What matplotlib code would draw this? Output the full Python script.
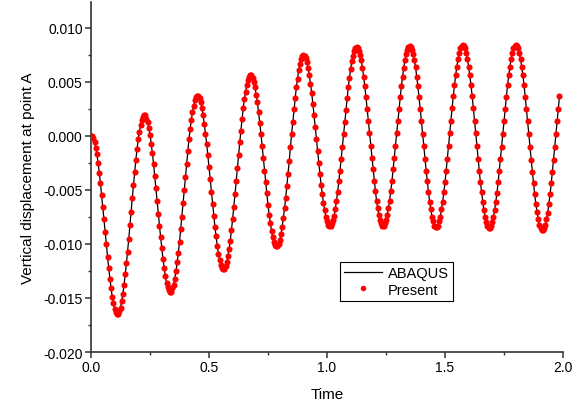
import numpy as np
import matplotlib
matplotlib.use("Agg")
import matplotlib.pyplot as plt
from matplotlib.ticker import MultipleLocator, FormatStrFormatter

plt.rcParams['font.family'] = ['Liberation Sans', 'DejaVu Sans']
plt.rcParams['axes.unicode_minus'] = False

dt = 0.005
present_disp = [
    0.0, 0.0, -0.0002, -0.0006, -0.0011, -0.0017, -0.0025, -0.0034, -0.0044, -0.0055, -0.0066, -0.0077, -0.0089, -0.0100, -0.0112,
    -0.0122, -0.0132, -0.0141, -0.0149, -0.0155, -0.0160, -0.0163, -0.0165, -0.0165, -0.0162, -0.0159, -0.0153, -0.0146, -0.0138, -0.0128,
    -0.0118, -0.0107, -0.0095, -0.0082, -0.0070, -0.0057, -0.0045, -0.0033, -0.0022, -0.0012, -0.0003, 0.0004, 0.0010, 0.0015, 0.0018,
    0.0019, 0.0019, 0.0016, 0.0013, 0.0007, 0.0001, -0.0007, -0.0016, -0.0026, -0.0037, -0.0048, -0.0060, -0.0072, -0.0083, -0.0094,
    -0.0104, -0.0114, -0.0122, -0.0130, -0.0136, -0.0140, -0.0143, -0.0144, -0.0144, -0.0141, -0.0138, -0.0132, -0.0125, -0.0117, -0.0108,
    -0.0098, -0.0086, -0.0075, -0.0062, -0.0050, -0.0038, -0.0026, -0.0014, -0.0003, 0.0006, 0.0015, 0.0022, 0.0028, 0.0033, 0.0036,
    0.0037, 0.0037, 0.0035, 0.0031, 0.0026, 0.0019, 0.0011, 0.0002, -0.0007, -0.0018, -0.0029, -0.0040, -0.0052, -0.0063, -0.0074,
    -0.0084, -0.0093, -0.0102, -0.0109, -0.0115, -0.0119, -0.0122, -0.0123, -0.0123, -0.0120, -0.0117, -0.0111, -0.0105, -0.0097, -0.0087,
    -0.0077, -0.0066, -0.0054, -0.0042, -0.0030, -0.0018, -0.0006, 0.0005, 0.0016, 0.0026, 0.0034, 0.0041, 0.0047, 0.0052, 0.0055,
    0.0056, 0.0056, 0.0054, 0.0050, 0.0045, 0.0038, 0.0031, 0.0022, 0.0012, 0.0002, -0.0009, -0.0020, -0.0032, -0.0043, -0.0053,
    -0.0064, -0.0073, -0.0081, -0.0088, -0.0094, -0.0098, -0.0101, -0.0102, -0.0102, -0.0100, -0.0096, -0.0091, -0.0084, -0.0076, -0.0067,
    -0.0057, -0.0046, -0.0035, -0.0023, -0.0010, 0.0002, 0.0013, 0.0025, 0.0035, 0.0045, 0.0053, 0.0061, 0.0067, 0.0071, 0.0074,
    0.0075, 0.0074, 0.0072, 0.0068, 0.0063, 0.0056, 0.0048, 0.0040, 0.0030, 0.0019, 0.0008, -0.0003, -0.0014, -0.0025, -0.0035,
    -0.0045, -0.0054, -0.0062, -0.0069, -0.0075, -0.0079, -0.0082, -0.0083, -0.0083, -0.0081, -0.0078, -0.0074, -0.0068, -0.0060, -0.0052,
    -0.0042, -0.0032, -0.0021, -0.0010, 0.0002, 0.0013, 0.0024, 0.0035, 0.0045, 0.0054, 0.0062, 0.0069, 0.0074, 0.0079, 0.0081,
    0.0082, 0.0081, 0.0079, 0.0075, 0.0070, 0.0063, 0.0055, 0.0046, 0.0036, 0.0025, 0.0014, 0.0003, -0.0009, -0.0020, -0.0031,
    -0.0042, -0.0051, -0.0060, -0.0067, -0.0073, -0.0078, -0.0081, -0.0083, -0.0083, -0.0081, -0.0078, -0.0073, -0.0067, -0.0060, -0.0051,
    -0.0042, -0.0031, -0.0020, -0.0009, 0.0003, 0.0014, 0.0025, 0.0036, 0.0046, 0.0055, 0.0063, 0.0070, 0.0076, 0.0080, 0.0082,
    0.0083, 0.0082, 0.0080, 0.0076, 0.0070, 0.0064, 0.0055, 0.0046, 0.0036, 0.0025, 0.0014, 0.0002, -0.0009, -0.0021, -0.0032,
    -0.0042, -0.0052, -0.0061, -0.0068, -0.0075, -0.0079, -0.0083, -0.0084, -0.0084, -0.0083, -0.0079, -0.0075, -0.0068, -0.0061, -0.0052,
    -0.0043, -0.0032, -0.0021, -0.0009, 0.0003, 0.0014, 0.0026, 0.0037, 0.0047, 0.0056, 0.0064, 0.0071, 0.0077, 0.0081, 0.0083,
    0.0084, 0.0083, 0.0081, 0.0077, 0.0071, 0.0064, 0.0056, 0.0047, 0.0037, 0.0026, 0.0014, 0.0003, -0.0009, -0.0021, -0.0032,
    -0.0043, -0.0052, -0.0061, -0.0069, -0.0075, -0.0080, -0.0083, -0.0085, -0.0085, -0.0083, -0.0080, -0.0075, -0.0069, -0.0061, -0.0053,
    -0.0043, -0.0032, -0.0021, -0.0010, 0.0002, 0.0014, 0.0025, 0.0036, 0.0047, 0.0056, 0.0064, 0.0071, 0.0077, 0.0081, 0.0083,
    0.0084, 0.0083, 0.0081, 0.0077, 0.0071, 0.0064, 0.0056, 0.0047, 0.0036, 0.0025, 0.0014, 0.0002, -0.0010, -0.0022, -0.0033,
    -0.0044, -0.0054, -0.0063, -0.0070, -0.0077, -0.0082, -0.0085, -0.0087, -0.0087, -0.0085, -0.0082, -0.0077, -0.0071, -0.0063, -0.0054,
    -0.0044, -0.0033, -0.0022, -0.0010, 0.0002, 0.0014, 0.0025, 0.0037,
]
# ABAQUS curve lies on top of the present results at this resolution
abaqus_disp = list(present_disp)
time = np.arange(len(present_disp)) * dt

fig = plt.figure(figsize=(5.79, 4.10), dpi=100)
ax = fig.add_axes([0.1572, 0.1390, 0.8152, 0.8537])

ax.plot(time, abaqus_disp, color='black', lw=0.9, label='ABAQUS', zorder=2)
ax.plot(time, present_disp, linestyle='none', marker='o', ms=4.4, mew=0,
        color='#ff0000', label='Present', zorder=3)

ax.set_xlim(0, 2.0)
ax.set_ylim(-0.020, 0.0124)
ax.xaxis.set_major_locator(MultipleLocator(0.5))
ax.xaxis.set_minor_locator(MultipleLocator(0.25))
ax.yaxis.set_major_locator(MultipleLocator(0.005))
ax.yaxis.set_minor_locator(MultipleLocator(0.0025))
ax.xaxis.set_major_formatter(FormatStrFormatter('%.1f'))
ax.yaxis.set_major_formatter(FormatStrFormatter('%.3f'))

for side in ['top', 'right']:
    ax.spines[side].set_visible(False)
for side in ['left', 'bottom']:
    ax.spines[side].set_linewidth(1.2)
    ax.spines[side].set_color('#333333')

ax.tick_params(which='major', direction='out', length=4, width=1.1, color='#333333', labelsize=10, pad=2)
ax.tick_params(which='minor', direction='out', length=2.5, width=1.0, color='#333333')

ax.set_xlabel('Time', fontsize=11, labelpad=9)
ax.set_ylabel('Vertical displacement at point A', fontsize=11, labelpad=6)

leg = ax.legend(loc='lower left', bbox_to_anchor=(0.5275, 0.146), fontsize=10.5,
                frameon=True, fancybox=False, edgecolor='black', framealpha=1,
                handlelength=2.6, handletextpad=0.4, labelspacing=0.15,
                borderpad=0.3, borderaxespad=0, markerscale=0.9)
leg.get_frame().set_linewidth(0.8)

fig.savefig('out.png', dpi=100)
